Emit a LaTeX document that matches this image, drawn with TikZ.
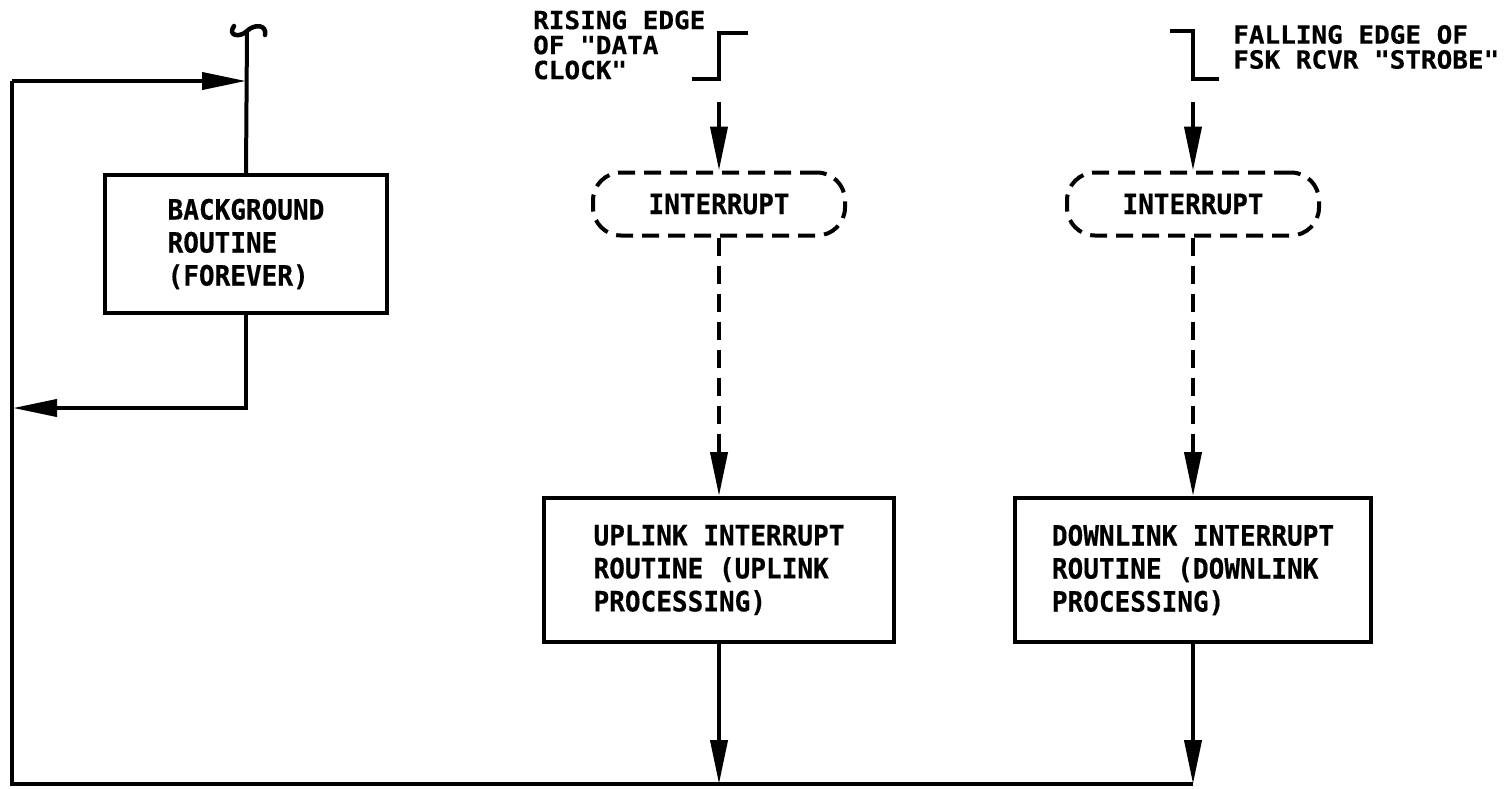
\documentclass[tikz,border=0pt]{standalone}
\usepackage{fontspec}
\setmonofont{DejaVu Sans Mono}[FakeStretch=0.93, BoldFeatures={FakeBold=0.5}]
\newfontfamily\lblmono{DejaVu Sans Mono}[FakeStretch=1.04, BoldFeatures={FakeBold=0.5}]
\usetikzlibrary{arrows.meta}

\tikzset{
  wire/.style={line width=4pt, line join=miter},
  tipped/.style={wire, -{Triangle[length=44pt,width=17pt]}},
  dashwire/.style={wire, dash pattern=on 18pt off 10pt},
  procbox/.style={draw, line width=4pt, rectangle, inner sep=0pt,
    font=\ttfamily\bfseries\fontsize{28}{33}\selectfont, align=left},
  irqbox/.style={draw, line width=4pt, rounded corners=28pt,
    dash pattern=on 17pt off 9pt, minimum width=252pt, minimum height=63pt,
    inner sep=0pt, font=\ttfamily\bfseries\fontsize{28}{30}\selectfont},
  edgelabel/.style={inner sep=0pt, anchor=west, align=left,
    font=\lblmono\bfseries\fontsize{25}{25}\selectfont},
}

\begin{document}
\begin{tikzpicture}[x=1pt, y=-1pt]
\useasboundingbox (0,0) rectangle (1505,788);

% background loop
\node[procbox, minimum width=282pt, minimum height=138pt]
  (bg) at (246,244) {BACKGROUND\\ROUTINE\\(FOREVER)};

% interrupt entries
\node[irqbox] (i1) at (719,204) {INTERRUPT};
\node[irqbox] (i2) at (1193,204) {INTERRUPT};

% interrupt service routines
\node[procbox, minimum width=350pt, minimum height=144pt]
  (up) at (719,570) {UPLINK INTERRUPT\\ROUTINE (UPLINK\\PROCESSING)};
\node[procbox, minimum width=356pt, minimum height=144pt]
  (dn) at (1193,570) {DOWNLINK INTERRUPT\\ROUTINE (DOWNLINK\\PROCESSING)};

% edge labels
\node[edgelabel] (lr) at (533,45) {RISING EDGE\\OF "DATA\\CLOCK"};
\node[edgelabel] (lf) at (1233,47) {FALLING EDGE OF\\FSK RCVR "STROBE"};

% return bus and loop points
\coordinate (tl) at (12,81);
\coordinate (bl) at (12,784);
\coordinate (mid) at (719,784);
\coordinate (br) at (1193,784);
\coordinate (ret) at (13,408);
\coordinate (top) at (247,31);

\draw[wire] (br) -- (bl) -- (tl);
\draw[tipped] (tl) -- (tl -| bg.north);
\draw[wire] (top) -- (bg.north);
\draw[tipped] (bg.south) |- (ret);

% break mark at the top of the loop line
\draw[line width=4.5pt, line cap=round]
  (234,26) .. controls (227,36) and (240,38) .. (247,31)
  .. controls (254,24) and (267,24) .. (265,35);

% rising edge waveform and its arrow
\coordinate (r1) at (748,33);
\coordinate (r2) at (719,33);
\coordinate (r3) at (719,79);
\coordinate (r4) at (692,79);
\draw[wire] (r1) -- (r2) -- (r3) -- (r4);
\coordinate (ra) at (719,102);
\draw[tipped] (ra) -- (i1.north);

% falling edge waveform and its arrow
\coordinate (f1) at (1170,31);
\coordinate (f2) at (1193,31);
\coordinate (f3) at (1193,79);
\coordinate (f4) at (1219,79);
\draw[wire] (f1) -- (f2) -- (f3) -- (f4);
\coordinate (fa) at (1193,102);
\draw[tipped] (fa) -- (i2.north);

% interrupt dispatch (dashed)
\draw[dashwire, -{Triangle[length=44pt,width=17pt]}] (i1.south) -- (up.north);
\draw[dashwire, -{Triangle[length=44pt,width=17pt]}] (i2.south) -- (dn.north);

% return to background
\draw[tipped] (up.south) -- (mid);
\draw[tipped] (dn.south) -- (br);
\end{tikzpicture}
\end{document}
